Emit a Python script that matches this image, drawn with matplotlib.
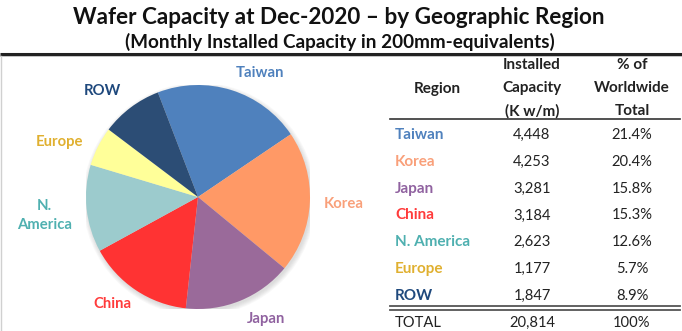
import numpy as np
import matplotlib.pyplot as plt
from matplotlib.patches import Circle

regions = ["Taiwan", "Korea", "Japan", "China", "N. America", "Europe", "ROW"]
capacity = [4448, 4253, 3281, 3184, 2623, 1177, 1847]
share = [21.4, 20.4, 15.8, 15.3, 12.6, 5.7, 8.9]
total_capacity = 20814
total_share = 100

wedge_colors = ["#4F81BD", "#FF9966", "#9A6A9A", "#FF3333", "#9CCBCD", "#FFFF99", "#2C4D75"]
text_colors = ["#4F81BD", "#F9A07A", "#9062A0", "#FF3B3B", "#4FB0B0", "#E0B030", "#1F497D"]
# (radius factor, angle nudge in degrees) for each wedge label
label_place = [(1.24, -9), (1.30, 0), (1.25, 7), (1.22, -5), (1.38, 1), (1.33, 5), (1.27, 5)]

plt.rcParams['font.family'] = ['Lato', 'DejaVu Sans']

W, H = 682, 331
fig = plt.figure(figsize=(W / 100, H / 100), dpi=100)

# full-figure overlay in pixel units for title, rules and table
ov = fig.add_axes([0, 0, 1, 1])
ov.set_xlim(0, W)
ov.set_ylim(H, 0)
ov.axis("off")

ov.text(W / 2 - 2, 18, "Wafer Capacity at Dec-2020 \u2013 by Geographic Region",
        ha="center", va="center", fontsize=16.2, fontweight="bold", color="#111111")
ov.text(W / 2 - 1, 42, "(Monthly Installed Capacity in 200mm-equivalents)",
        ha="center", va="center", fontsize=13.6, fontweight="bold", color="#111111")
ov.plot([0, W], [53.5, 53.5], color="#222222", lw=2.2, solid_capstyle="butt")
ov.plot([0, W], [55.5, 55.5], color="#bbbbbb", lw=0.6)
ov.plot([1, 1], [56, H], color="#d0d0d0", lw=1)

# table
x_region, x_cap, x_pct = 395, 532, 632
fs = 10.6
fh = 11
ov.text(437, 89, "Region", ha="center", va="center", fontsize=fh, fontweight="bold", color="#222222")
for i, line in enumerate(["Installed", "Capacity", "(K w/m)"]):
    ov.text(x_cap, 65 + 23 * i, line, ha="center", va="center", fontsize=fh, fontweight="bold", color="#222222")
for i, line in enumerate(["% of", "Worldwide", "Total"]):
    ov.text(x_pct, 65 + 23 * i, line, ha="center", va="center", fontsize=fh, fontweight="bold", color="#222222")
ov.plot([390, 680], [119, 119], color="#333333", lw=1.2)

row_y0, row_step = 135, 26.8
for i, (name, cap, pct) in enumerate(zip(regions, capacity, share)):
    y = row_y0 + i * row_step
    ov.text(x_region, y, name, ha="left", va="center", fontsize=11, fontweight="bold", color=text_colors[i])
    ov.text(x_cap, y, f"{cap:,}", ha="center", va="center", fontsize=fs, color="#222222")
    ov.text(x_pct, y, f"{pct:.1f}%", ha="center", va="center", fontsize=fs, color="#222222")

ov.plot([390, 680], [306, 306], color="#555555", lw=1.3)
ov.plot([390, 680], [309.5, 309.5], color="#555555", lw=1.3)
ov.text(x_region, 323, "TOTAL", ha="left", va="center", fontsize=fs, color="#222222")
ov.text(x_cap, 323, f"{total_capacity:,}", ha="center", va="center", fontsize=fs, color="#222222")
ov.text(x_pct, 323, f"{total_share}%", ha="center", va="center", fontsize=fs, color="#222222")

# pie
cx, cy, R = 198, 197, 112
ax = fig.add_axes([(cx - R) / W, (H - cy - R) / H, 2 * R / W, 2 * R / H])
for k in range(6):
    ax.add_patch(Circle((0.012, -0.02), 1 + 0.008 * k, color="#888888", alpha=0.05, lw=0))
start = 111
wedges, _ = ax.pie(capacity, colors=wedge_colors, startangle=start, counterclock=False,
                   wedgeprops=dict(linewidth=0))
ax.set_xlim(-1, 1)
ax.set_ylim(-1, 1)
ax.set_aspect("equal")
ax.axis("off")

pie_names = ["Taiwan", "Korea", "Japan", "China", "N.\nAmerica", "Europe", "ROW"]
for w, name, col, (rf, nudge) in zip(wedges, pie_names, text_colors, label_place):
    mid = np.deg2rad((w.theta1 + w.theta2) / 2 + nudge)
    ax.text(rf * np.cos(mid), rf * np.sin(mid), name, ha="center", va="center",
            fontsize=10.7, fontweight="bold", color=col, linespacing=1.45)

fig.savefig("out.png", dpi=100)
